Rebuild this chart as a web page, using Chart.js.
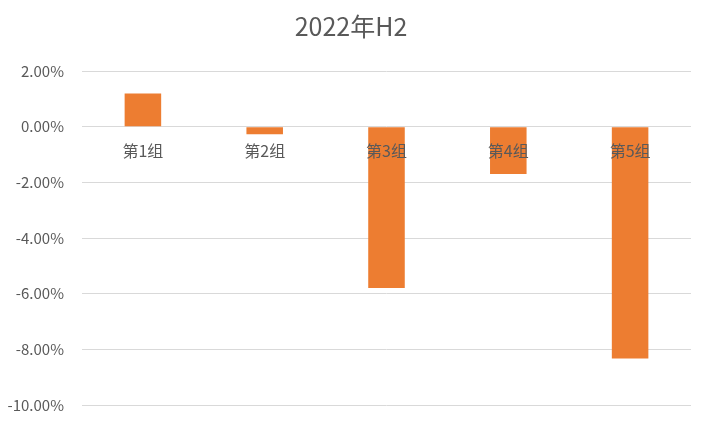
<!DOCTYPE html>
<html>
<head>
<meta charset="utf-8">
<script src="https://cdn.jsdelivr.net/npm/chart.js@4.4.0/dist/chart.umd.min.js"></script>
<style>
  html, body { margin: 0; padding: 0; background: #fff; }
  #wrap { width: 702px; height: 423px; position: relative; }
</style>
</head>
<body>
<div id="wrap"><canvas id="barChart"></canvas></div>
<script>
// chart data (percent units)
const categories = ['第1组', '第2组', '第3组', '第4组', '第5组'];
const values = [1.19, -0.27, -5.80, -1.70, -8.33];
const yTicks = [2, 0, -2, -4, -6, -8, -10];
const chartTitle = '2022年H2';

const FONT = "'Noto Sans CJK SC', 'Noto Sans', sans-serif";
const GREY = '#595959';

// keep the title centred on the whole canvas, not on the padded area
const centerTitle = {
  id: 'centerTitle',
  afterLayout(chart) {
    if (chart.titleBlock) {
      chart.titleBlock.left = 0;
      chart.titleBlock.right = chart.width;
    }
  }
};

const ctx = document.getElementById('barChart').getContext('2d');

new Chart(ctx, {
  type: 'bar',
  data: {
    labels: categories,
    datasets: [{
      label: chartTitle,
      data: values,
      backgroundColor: '#ED7D31',
      barPercentage: 0.3,
      categoryPercentage: 1
    }]
  },
  plugins: [centerTitle],
  options: {
    responsive: true,
    maintainAspectRatio: false,
    animation: false,
    layout: { padding: { left: 0, right: 11, top: 0, bottom: 18 } },
    plugins: {
      legend: { display: false },
      tooltip: { enabled: false },
      title: {
        display: true,
        text: chartTitle,
        color: GREY,
        font: { family: FONT, size: 25, weight: 'normal' },
        padding: { top: 11, bottom: 30 }
      }
    },
    scales: {
      x: {
        position: { y: 0 }, // category labels sit under the zero line
        afterFit: (scale) => { scale.height = 0; },
        grid: { display: false, drawTicks: false },
        border: { display: false },
        ticks: {
          z: 1, // labels drawn over the bars, like the original
          color: GREY,
          font: { family: FONT, size: 16 },
          padding: 15
        }
      },
      y: {
        min: Math.min(...yTicks),
        max: Math.max(...yTicks),
        afterFit: (scale) => {
          scale.width = 82;
          // tick padding would otherwise be added above/below the plot
          scale.paddingTop = 9;
          scale.paddingBottom = 9;
        },
        afterBuildTicks: (scale) => {
          scale.ticks = yTicks.map(v => ({ value: v }));
        },
        grid: { color: '#d9d9d9', lineWidth: 1, drawTicks: false },
        border: { display: false },
        ticks: {
          color: GREY,
          font: { family: FONT, size: 15 },
          padding: 18,
          callback: (v) => v.toFixed(2) + '%'
        }
      }
    }
  }
});
</script>
</body>
</html>
